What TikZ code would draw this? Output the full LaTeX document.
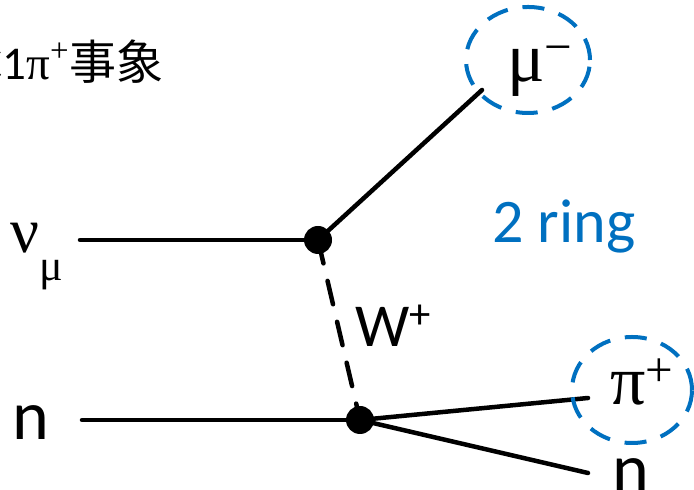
\documentclass[tikz,border=0pt]{standalone}
\usepackage{fontspec}
\setmainfont{Carlito}
\newfontfamily\grk{Liberation Serif}
\newfontfamily\cjk{Noto Sans CJK JP}
\usepackage{tkz-euclide}
\usetikzlibrary{calc}
\definecolor{ringblue}{HTML}{0070C0}
\newcommand{\fsz}[1]{\fontsize{#1pt}{#1pt}\selectfont}

\tikzset{
  lbl/.style={inner sep=0pt, anchor=base west},
  prt/.style={line width=2.25pt},
  wline/.style={line width=2.25pt, dash pattern=on 12pt off 9pt},
  ring/.style={ringblue, line width=2pt, dash pattern=on 11pt off 7.5pt},
}

\begin{document}
\begin{tikzpicture}[x=0.5pt,y=0.5pt]
            \useasboundingbox (0,0) rectangle (694,490);
            \tkzDefPoints{80/250/NuIn,318/250/VA,82/70/NIn,360/70/VB}
            \tkzDefPoints{482/400/MuEnd,588/92/PiEnd,588/17/NEnd,528/430/MuC,632/100/PiC}
            \tkzDrawSegments[prt](NuIn,VA NIn,VB VA,MuEnd VB,PiEnd VB,NEnd)
            \tkzDrawSegment[wline](VA,VB)
            \fill (VA) circle (7pt);
            \fill (VB) circle (7pt);
            \draw[ring] (MuC) ellipse [x radius=31pt, y radius=26.5pt];
            \draw[ring] (PiC) ellipse [x radius=30pt, y radius=26.5pt];
            % labels
            \node[lbl] (title) at (-23,410) {\fsz{23.5}C1{\grk π\textsuperscript{+}}{\cjk 事象}};
            \node[lbl] (nu) at (10,237) {\grk\fsz{32}ν\raisebox{-14pt}{\fsz{22}μ}};
            \node[lbl] (nin) at (12,50) {\fsz{35}n};
            \node[lbl] (w) at (355,143) {\fsz{30.5}W\textsuperscript{+}};
            \node[lbl, text=ringblue] (ring) at (492,247) {\fsz{31}2 ring};
            \node[lbl] (mu) at (507,408) {\grk\fsz{35}μ\textsuperscript{−}};
            \node[lbl] (pi) at (610,85) {\grk\fsz{35}π\textsuperscript{+}};
            \node[lbl] (nout) at (612,-3) {\fsz{35}n};
        \end{tikzpicture}
\end{document}
